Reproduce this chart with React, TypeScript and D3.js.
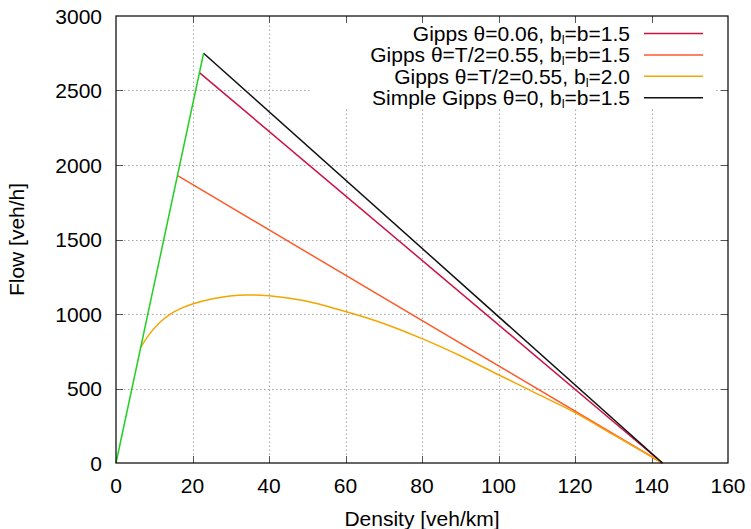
import React from "react";
import * as d3 from "d3";

// axis ticks
const densityTicks = [0, 20, 40, 60, 80, 100, 120, 140, 160];
const flowTicks = [0, 500, 1000, 1500, 2000, 2500, 3000];

// free-flow branch (green, no key entry)
const freeDensity = [0, 22.9];
const freeFlow = [0, 2750];

// Gipps theta=0.06, bl=b=1.5
const gipps006Density = [21.8, 142.86];
const gipps006Flow = [2620, 0];

// Gipps theta=T/2=0.55, bl=b=1.5
const gippsHalfDensity = [16.0, 142.86];
const gippsHalfFlow = [1930, 0];

// Gipps theta=T/2=0.55, bl=2.0
const gippsBl2Density = [6.3, 8.9, 11.5, 14.1, 17, 20, 25, 29.8, 34.2, 40, 49, 58.6, 69, 80, 90, 100, 110, 120, 130, 142.86];
const gippsBl2Flow = [770, 870, 945, 998, 1038, 1067, 1100, 1121, 1128, 1123, 1090, 1027, 945, 835, 720, 592, 466, 338, 190, 0];

// Simple Gipps theta=0
const simpleDensity = [22.9, 142.86];
const simpleFlow = [2750, 0];

const W = 751;
const H = 529;
const margin = { top: 16, right: 23, bottom: 66, left: 116 };
const FONT = "'Liberation Sans', Arial, Helvetica, sans-serif";

const zip = (xs: number[], ys: number[]) => xs.map((x, i) => [x, ys[i]] as [number, number]);

export default function App() {
  const x = d3.scaleLinear().domain([0, 160]).range([margin.left, W - margin.right]);
  const y = d3.scaleLinear().domain([0, 3000]).range([H - margin.bottom, margin.top]);
  const x0 = x.range()[0], x1 = x.range()[1];
  const y0 = y.range()[0], y1 = y.range()[1];

  const straight = d3.line<[number, number]>().x(d => x(d[0])).y(d => y(d[1]));
  const smooth = d3.line<[number, number]>().x(d => x(d[0])).y(d => y(d[1])).curve(d3.curveCatmullRom.alpha(0.5));

  const series = [
    { label: ["Gipps θ=0.06, b", "=b=1.5"], color: "#cc1144", d: straight(zip(gipps006Density, gipps006Flow)) },
    { label: ["Gipps θ=T/2=0.55, b", "=b=1.5"], color: "#ff5a2a", d: straight(zip(gippsHalfDensity, gippsHalfFlow)) },
    { label: ["Gipps θ=T/2=0.55, b", "=2.0"], color: "#f5a500", d: smooth(zip(gippsBl2Density, gippsBl2Flow)) },
    { label: ["Simple Gipps θ=0, b", "=b=1.5"], color: "#111111", d: straight(zip(simpleDensity, simpleFlow)) },
  ];

  // key box (grid is hidden behind it)
  const key = { x: 312, y: y1, w: 403, h: 91 };
  const keyRow0 = 33.5;
  const keyStep = 21.4;

  return (
    <svg width={W} height={H} style={{ position: "absolute", left: 0, top: 0, background: "#fff" }}>
      <rect x={0} y={0} width={W} height={H} fill="#fff" />
      {/* grid */}
      <g stroke="#a8a8a8" strokeWidth={1} strokeDasharray="1.5,2.5">
        {densityTicks.slice(1, -1).map(t => (
          <line key={"gx" + t} x1={Math.round(x(t)) + 0.5} x2={Math.round(x(t)) + 0.5} y1={y0} y2={y1} />
        ))}
        {flowTicks.slice(1, -1).map(t => (
          <line key={"gy" + t} x1={x0} x2={x1} y1={Math.round(y(t)) + 0.5} y2={Math.round(y(t)) + 0.5} />
        ))}
      </g>
      <rect x={key.x} y={key.y} width={key.w} height={key.h} fill="#fff" />
      {/* ticks, all four sides */}
      <g stroke="#555" strokeWidth={1}>
        {densityTicks.slice(1, -1).map(t => (
          <g key={"tx" + t}>
            <line x1={Math.round(x(t)) + 0.5} x2={Math.round(x(t)) + 0.5} y1={y0} y2={y0 - 7} />
            <line x1={Math.round(x(t)) + 0.5} x2={Math.round(x(t)) + 0.5} y1={y1} y2={y1 + 7} />
          </g>
        ))}
        {flowTicks.slice(1, -1).map(t => (
          <g key={"ty" + t}>
            <line x1={x0} x2={x0 + 7} y1={Math.round(y(t)) + 0.5} y2={Math.round(y(t)) + 0.5} />
            <line x1={x1} x2={x1 - 7} y1={Math.round(y(t)) + 0.5} y2={Math.round(y(t)) + 0.5} />
          </g>
        ))}
      </g>
      {/* data */}
      {series.map(s => (
        <path key={s.color} d={s.d || ""} fill="none" stroke={s.color} strokeWidth={1.5} />
      ))}
      <path d={straight(zip(freeDensity, freeFlow)) || ""} fill="none" stroke="#22d022" strokeWidth={1.5} />
      {/* border */}
      <rect x={x0} y={y1} width={x1 - x0} height={y0 - y1} fill="none" stroke="#000" strokeWidth={1.2} />
      {/* tick labels */}
      <g fontFamily={FONT} fontSize={21} fill="#000">
        {densityTicks.map(t => (
          <text key={"lx" + t} x={x(t)} y={y0 + 30} textAnchor="middle">{t}</text>
        ))}
        {flowTicks.map(t => (
          <text key={"ly" + t} x={102} y={y(t) + 7.5} textAnchor="end">{t}</text>
        ))}
        <text x={(x0 + x1) / 2} y={526} textAnchor="middle">Density [veh/km]</text>
        <text transform={`translate(24, ${(y0 + y1) / 2}) rotate(-90)`} textAnchor="middle">Flow [veh/h]</text>
      </g>
      {/* key */}
      <g fontFamily={FONT} fontSize={21} fill="#000">
        {series.map((s, i) => {
          const cy = keyRow0 + i * keyStep;
          return (
            <g key={"k" + i}>
              <text x={630} y={cy + 7.5} textAnchor="end">
                {s.label[0]}
                <tspan fontSize={13} dy={3}>l</tspan>
                <tspan dy={-3}>{s.label[1]}</tspan>
              </text>
              <line x1={644} x2={703} y1={cy} y2={cy} stroke={s.color} strokeWidth={1.5} />
            </g>
          );
        })}
      </g>
    </svg>
  );
}
